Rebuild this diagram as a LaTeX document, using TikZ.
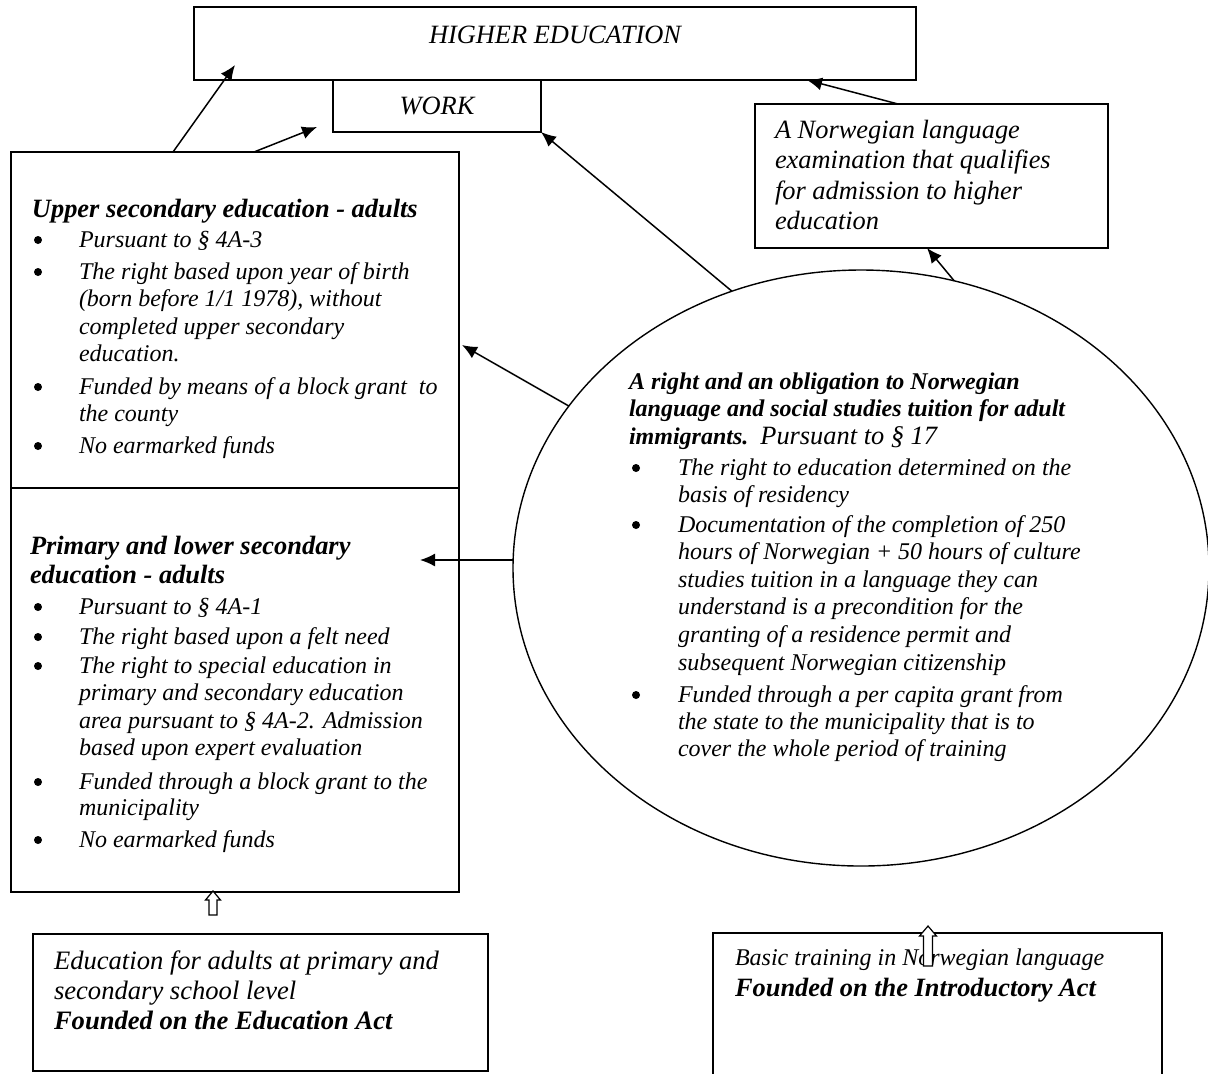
\documentclass[tikz,border=0pt]{standalone}
\usepackage{fontspec}
\setmainfont{Liberation Serif}
\usetikzlibrary{shapes.geometric,arrows.meta,calc}
\tikzset{
  box/.style={draw, rectangle, line width=0.9pt, inner sep=0pt, outer sep=0pt},
  txt/.style={anchor=base west, inner sep=0pt, outer sep=0pt, font=\fontsize{12}{13.75}\selectfont\itshape},
  big/.style={font=\fontsize{13.2}{13.75}\selectfont\itshape},
  arr/.style={line width=0.75pt, -{Latex[length=7.5pt,width=6.5pt]}},
  bul/.style={circle, fill=black, inner sep=0pt, minimum size=4pt},
  hollow/.style={draw, fill=white, line width=0.6pt, line join=miter},
}
\newcommand\ml[1]{\begin{tabular}[t]{@{}l@{}}#1\end{tabular}}
\begin{document}
\begin{tikzpicture}[x=0.5pt,y=-0.5pt]
\useasboundingbox (0,0) rectangle (1208,1073);
\clip (0,0) rectangle (1208,1073);

% top boxes
\node[box, line width=1.2pt, minimum width=361pt, minimum height=36.5pt] (he) at (555,43.5) {};
\node[txt, big, anchor=center] (het) at (555,35) {HIGHER EDUCATION};
\node[box, line width=1.2pt, minimum width=104pt, minimum height=26pt] (work) at (437,106) {};
\node[txt, big, anchor=center] (workt) at (437,106) {WORK};

% exam box
\node[box, minimum width=176.5pt, minimum height=72pt] (exam) at (931.5,176) {};
\node[txt, font=\fontsize{13.2}{15.3}\selectfont\itshape] (examt) at (775,138)
  {\ml{A Norwegian language\\examination that qualifies\\for admission to higher\\education}};

% upper secondary box
\node[box, minimum width=224pt, minimum height=168pt] (up) at (235,320) {};
\node[txt, font=\fontsize{13.2}{13.75}\selectfont\bfseries\itshape] (uph) at (32,217) {Upper secondary education - adults};
\node[bul] (ub1) at (38,240) {};
\node[txt] (ui1) at (79,247) {Pursuant to § 4A-3};
\node[bul] (ub2) at (38,272) {};
\node[txt] (ui2) at (79,279) {\ml{The right based upon year of birth\\(born before 1/1 1978), without\\completed upper secondary\\education.}};
\node[bul] (ub3) at (38,387) {};
\node[txt] (ui3) at (79,394) {\ml{Funded by means of a block grant\ \ to\\the county}};
\node[bul] (ub4) at (38,446) {};
\node[txt] (ui4) at (79,453) {No earmarked funds};

% primary / lower secondary box
\node[box, minimum width=224pt, minimum height=202pt] (low) at (235,690) {};
\node[txt, font=\fontsize{13.2}{14.5}\selectfont\bfseries\itshape] (lowh) at (30,554) {\ml{Primary and lower secondary\\education - adults}};
\node[bul] (lb1) at (38,607) {};
\node[txt] (li1) at (79,614) {Pursuant to § 4A-1};
\node[bul] (lb2) at (38,637) {};
\node[txt] (li2) at (79,644) {The right based upon a felt need};
\node[bul] (lb3) at (38,666) {};
\node[txt] (li3) at (79,673) {\ml{The right to special education in\\primary and secondary education\\area pursuant to § 4A-2. Admission\\based upon expert evaluation}};
\node[bul] (lb4) at (38,782) {};
\node[txt, font=\fontsize{12}{13}\selectfont\itshape] (li4) at (79,789) {\ml{Funded through a block grant to the\\municipality}};
\node[bul] (lb5) at (38,840) {};
\node[txt] (li5) at (79,847) {No earmarked funds};

% ellipse
\node[draw, ellipse, line width=0.7pt, minimum width=348pt, minimum height=298pt, inner sep=0pt, outer sep=0pt] (ell) at (861,568) {};
\node[txt, font=\fontsize{12}{13.9}\selectfont\itshape] (ellh) at (629,389)
  {\ml{\textbf{A right and an obligation to Norwegian}\\\textbf{language and social studies tuition for adult}\\\textbf{immigrants.}\ \ {\fontsize{13.2}{13.9}\selectfont Pursuant to § 17}}};
\node[bul] (eb1) at (636,468) {};
\node[txt, font=\fontsize{12}{13.8}\selectfont\itshape] (ei1) at (678,475) {\ml{The right to education determined on the\\basis of residency}};
\node[bul] (eb2) at (636,525) {};
\node[txt, font=\fontsize{12}{13.8}\selectfont\itshape] (ei2) at (678,532) {\ml{Documentation of the completion of 250\\hours of Norwegian + 50 hours of culture\\studies tuition in a language they can\\understand is a precondition for the\\granting of a residence permit and\\subsequent Norwegian citizenship}};
\node[bul] (eb3) at (636,695) {};
\node[txt, font=\fontsize{12}{13.6}\selectfont\itshape] (ei3) at (678,702) {\ml{Funded through a per capita grant from\\the state to the municipality that is to\\cover the whole period of training}};

% bottom boxes
\node[box, minimum width=227.5pt, minimum height=68.5pt] (bl) at (260.5,1002.5) {};
\node[txt, font=\fontsize{13.3}{15}\selectfont\itshape] (blt) at (54,969)
  {\ml{Education for adults at primary and\\secondary school level\\\textbf{Founded on the Education Act}}};
\node[box, minimum width=224.5pt, minimum height=83.5pt] (br) at (937.5,1016.5) {};
\node[txt, font=\fontsize{12}{14}\selectfont\itshape] (brt1) at (735,965) {Basic training in Norwegian language};
\node[txt, font=\fontsize{13.2}{14}\selectfont\bfseries\itshape] (brt2) at (735,996) {Founded on the Introductory Act};

% connectors
\coordinate (t1) at (235,65);
\coordinate (t2) at (317,127);
\coordinate (t4) at (807,80);
\coordinate (t6) at (462,345);
\coordinate (t7) at (420,560);
\draw[arr] ($(up.north west)+(162,0)$) -- (t1);
\draw[arr] ($(up.north west)+(243,0)$) -- (t2);
\draw[arr] (ell.115) -- (work.south east);
\draw[arr] ($(exam.north west)+(143,0)$) -- (t4);
\draw[arr] (ell.72) -- ($(exam.south)+(-4.5,0)$);
\draw[arr] (ell.151) -- (t6);
\draw[arr] (ell.west |- t7) -- (t7);

% hollow block arrows
\draw[hollow] (209,915) -- (209,900) -- (205.5,900) -- (213,891) -- (220.5,900) -- (217,900) -- (217,915) -- cycle;
\draw[hollow] (923.5,966) -- (923.5,936) -- (919.5,936) -- (928,926) -- (936.5,936) -- (932.5,936) -- (932.5,966) -- cycle;
\end{tikzpicture}
\end{document}
